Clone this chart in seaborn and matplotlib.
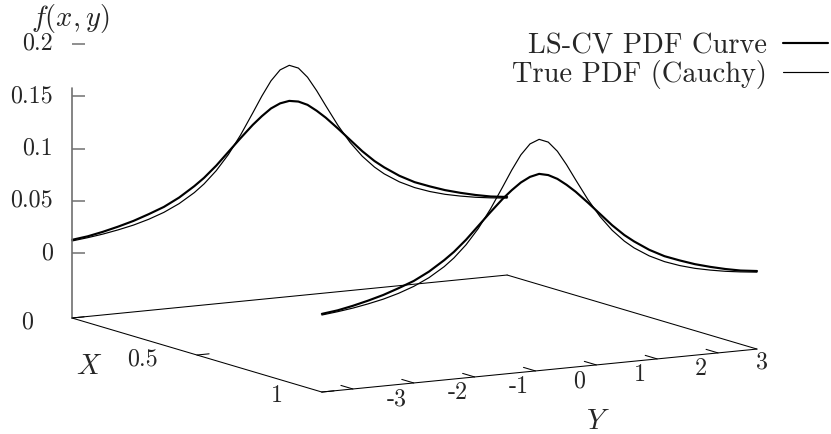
import numpy as np
import matplotlib
matplotlib.use("Agg")
import matplotlib.pyplot as plt
import seaborn as sns
from matplotlib.path import Path
from matplotlib.markers import MarkerStyle
from mpl_toolkits.mplot3d import proj3d

# ---------------- data ----------------
y_grid = [-3.51, -3.25, -3.0, -2.75, -2.5, -2.25, -2.0, -1.75, -1.5, -1.34, -1.14,
          -0.94, -0.74, -0.54, -0.39, -0.24, -0.09, 0.06, 0.21, 0.36, 0.51, 0.66,
          0.86, 1.06, 1.26, 1.46, 1.62, 1.87, 2.12, 2.37, 2.62, 2.87, 3.12, 3.37, 3.64]
true_x0 = [0.0116, 0.0133, 0.0153, 0.0179, 0.0210, 0.0251, 0.0303, 0.0372, 0.0463,
           0.0537, 0.0652, 0.0795, 0.0970, 0.1169, 0.1322, 0.1459, 0.1555, 0.1590,
           0.1555, 0.1459, 0.1322, 0.1169, 0.0970, 0.0795, 0.0652, 0.0537, 0.0463,
           0.0372, 0.0303, 0.0251, 0.0210, 0.0179, 0.0153, 0.0133, 0.0115]
lscv_x0 = [0.0127, 0.0146, 0.0175, 0.0210, 0.0250, 0.0300, 0.0355, 0.0430, 0.0525,
           0.0595, 0.0700, 0.0820, 0.0940, 0.1055, 0.1130, 0.1195, 0.1235, 0.1250,
           0.1235, 0.1195, 0.1130, 0.1055, 0.0940, 0.0820, 0.0700, 0.0595, 0.0525,
           0.0430, 0.0355, 0.0300, 0.0250, 0.0210, 0.0175, 0.0146, 0.0126]
true_x1 = [0.0116, 0.0133, 0.0153, 0.0179, 0.0210, 0.0251, 0.0303, 0.0372, 0.0463,
           0.0537, 0.0652, 0.0795, 0.0970, 0.1169, 0.1322, 0.1459, 0.1555, 0.1590,
           0.1555, 0.1459, 0.1322, 0.1169, 0.0970, 0.0795, 0.0652, 0.0537, 0.0463,
           0.0372, 0.0303, 0.0251, 0.0210, 0.0179, 0.0153, 0.0133, 0.0115]
lscv_x1 = [0.0127, 0.0146, 0.0175, 0.0210, 0.0250, 0.0300, 0.0355, 0.0430, 0.0525,
           0.0595, 0.0700, 0.0820, 0.0940, 0.1055, 0.1130, 0.1195, 0.1240, 0.1260,
           0.1240, 0.1195, 0.1130, 0.1055, 0.0940, 0.0820, 0.0700, 0.0595, 0.0525,
           0.0430, 0.0355, 0.0300, 0.0250, 0.0210, 0.0175, 0.0146, 0.0126]
curve_x = [0.0, 1.0]

x_ticks = [0, 0.5, 1]
x_tick_labels = ["0", "0.5", "1"]
y_ticks = [-3, -2, -1, 0, 1, 2, 3]
y_tick_labels = ["-3", "-2", "-1", "0", "1", "2", "3"]
z_ticks = [0, 0.05, 0.1, 0.15, 0.2]
z_tick_labels = ["0", "0.05", "0.1", "0.15", "0.2"]
legend_labels = ["LS-CV PDF Curve", "True PDF (Cauchy)"]

XMIN, XMAX = 0.0, 1.0
YMIN, YMAX = -3.51, 3.64
ZMIN, ZMAX = -0.062, 0.2
Z_AXIS_TOP = 0.158

# ---------------- style ----------------
sns.set_theme(style="white")
plt.rcParams["font.family"] = ["cmr10", "DejaVu Serif"]
plt.rcParams["mathtext.fontset"] = "cm"
plt.rcParams["axes.unicode_minus"] = False
plt.rcParams["axes.formatter.use_mathtext"] = True

TICK_FS = 17.3
LABEL_FS = 20.5
W, H = 831, 434

fig = plt.figure(figsize=(W / 100, H / 100), dpi=100)
ax = fig.add_axes([0, -0.5, 1, 2], projection="3d", proj_type="ortho")
ax.view_init(elev=9.85, azim=-30.0)
aspect = (499.7, 502.4, 278.2)
ax.set_box_aspect(aspect, zoom=1.0)
ax.set_xlim(XMIN, XMAX)
ax.set_ylim(YMIN, YMAX)
ax.set_zlim(ZMIN, ZMAX)
ax.set_axis_off()

# ---------------- curves ----------------
thick, thin = 1.55, 0.85
l1, = ax.plot([curve_x[0]] * len(y_grid), y_grid, lscv_x0, color="black", lw=thick,
              label=legend_labels[0])
l2, = ax.plot([curve_x[0]] * len(y_grid), y_grid, true_x0, color="black", lw=thin,
              label=legend_labels[1])
ax.plot([curve_x[1]] * len(y_grid), y_grid, lscv_x1, color="black", lw=thick)
ax.plot([curve_x[1]] * len(y_grid), y_grid, true_x1, color="black", lw=thin)

# ---------------- frame (base rectangle + z axis) ----------------
edge_kw = dict(color="black", lw=0.75)
ax.plot([XMIN, XMIN], [YMIN, YMAX], [ZMIN, ZMIN], **edge_kw)
ax.plot([XMAX, XMAX], [YMIN, YMAX], [ZMIN, ZMIN], **edge_kw)
ax.plot([XMIN, XMAX], [YMIN, YMIN], [ZMIN, ZMIN], **edge_kw)
ax.plot([XMIN, XMAX], [YMAX, YMAX], [ZMIN, ZMIN], **edge_kw)
ax.plot([XMIN, XMIN], [YMIN, YMIN], [ZMIN, Z_AXIS_TOP], color="#707070", lw=1.2)

# z tick marks (horizontal on screen)
tick_marker = MarkerStyle(Path([(0, 0), (1, 0)], [Path.MOVETO, Path.LINETO]))
ax.plot([XMIN] * len(z_ticks), [YMIN] * len(z_ticks), z_ticks, linestyle="none",
        marker=tick_marker, ms=18.0, mec="#707070", mew=1.1)

# y tick marks on the front edge, x tick marks on the left edge
for yt in y_ticks:
    ax.plot([XMAX, XMAX - 0.048], [yt, yt], [ZMIN, ZMIN], **edge_kw)
for xt in x_ticks:
    ax.plot([xt, xt], [YMIN, YMIN + 0.2], [ZMIN, ZMIN], **edge_kw)

# ---------------- calibrate placement ----------------
def to_px(x, y, z):
    xs, ys, _ = proj3d.proj_transform(x, y, z, ax.get_proj())
    return ax.transData.transform((xs, ys))

fig.canvas.draw()
A = to_px(XMIN, YMIN, ZMIN)
C = to_px(XMAX, YMAX, ZMIN)
scale = (757 - 72) / (C[0] - A[0])
ax.set_box_aspect(aspect, zoom=scale)
fig.canvas.draw()
A = to_px(XMIN, YMIN, ZMIN)
dx, dy = 72 - A[0], (H - 318) - A[1]
pos = ax.get_position(original=True)
ax.set_position([pos.x0 + dx / W, pos.y0 + dy / H, pos.width, pos.height])
fig.canvas.draw()


def label_at(x, y, z, text, dxp, dyp, fs, ha):
    p = to_px(x, y, z)
    fig.text((p[0] + dxp) / W, (p[1] + dyp) / H, text, ha=ha, va="center",
             fontsize=fs)


# ---------------- tick labels & axis labels ----------------
for zt, lab in zip(z_ticks, z_tick_labels):
    label_at(XMIN, YMIN, zt, lab, -19, 0, TICK_FS, "right")
for xt, lab in zip(x_ticks, x_tick_labels):
    label_at(xt, YMIN, ZMIN, lab, -39, -4, TICK_FS, "right")
for yt, lab in zip(y_ticks, y_tick_labels):
    label_at(XMAX, yt, ZMIN, lab, 44, -10, TICK_FS, "center")

label_at(XMIN, YMIN, ZMAX, r"$f(x,y)$", -2, 25, LABEL_FS, "center")
label_at(0.5, YMIN, ZMIN, r"$X$", -108, -12, LABEL_FS, "center")
label_at(XMAX, 0, ZMIN, r"$Y$", 62, -51, LABEL_FS, "center")

# ---------------- legend ----------------
ax.legend(handles=[l1, l2], loc="upper right", bbox_to_anchor=(828 / W, 1 - 33 / H),
          bbox_transform=fig.transFigure, frameon=False, markerfirst=False,
          fontsize=LABEL_FS, handlelength=1.58, handletextpad=0.57,
          labelspacing=0.01, borderpad=0, borderaxespad=0)

fig.savefig("out.png", dpi=100, facecolor="white")
